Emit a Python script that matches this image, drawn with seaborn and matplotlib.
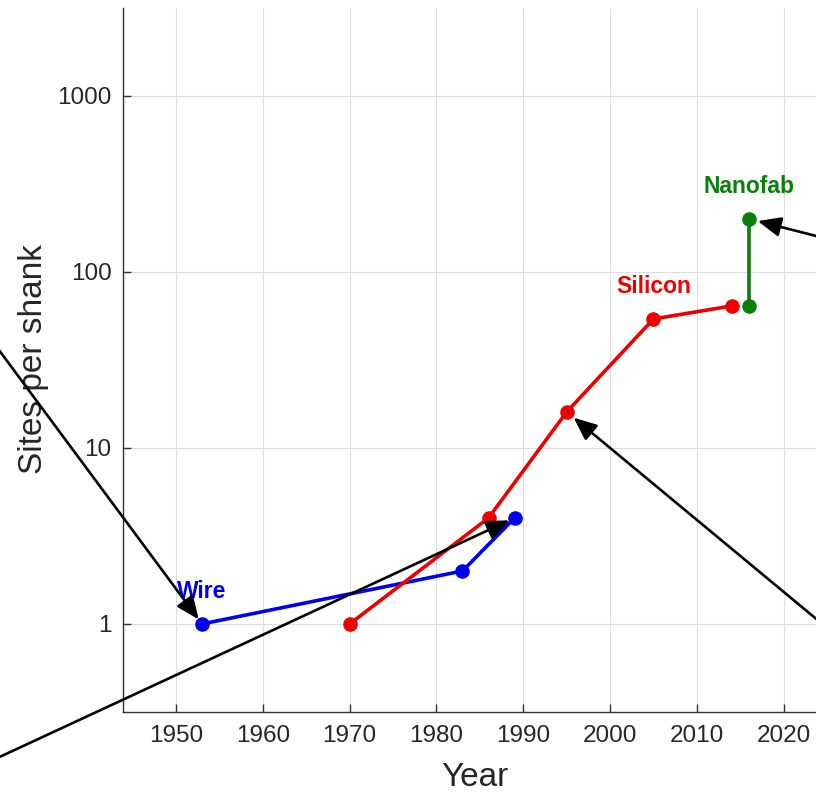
import numpy as np
import pandas as pd
import matplotlib
matplotlib.use("Agg")
import matplotlib.pyplot as plt
from matplotlib.ticker import FixedLocator, FixedFormatter, NullLocator
import seaborn as sns

# ---- data ----
wire_years = [1953, 1983, 1989]
wire_sites = [1, 2, 4]
silicon_years = [1970, 1986, 1995, 2005, 2014]
silicon_sites = [1, 4, 16, 54, 64]
nanofab_years = [2016, 2016]
nanofab_sites = [64, 200]

tech_names = ["Wire", "Silicon", "Nanofab"]
tech_colors = ["#0000EE", "#EE0000", "#0A800A"]

x_ticks = [1950, 1960, 1970, 1980, 1990, 2000, 2010, 2020]
y_ticks = [1, 10, 100, 1000]
y_tick_labels = ["1", "10", "100", "1000"]

df = pd.concat([
    pd.DataFrame({"Year": wire_years, "Sites": wire_sites, "Tech": "Wire"}),
    pd.DataFrame({"Year": silicon_years, "Sites": silicon_sites, "Tech": "Silicon"}),
    pd.DataFrame({"Year": nanofab_years, "Sites": nanofab_sites, "Tech": "Nanofab"}),
], ignore_index=True)

sns.set_theme(style="white")
plt.rcParams["font.family"] = ["Liberation Sans", "DejaVu Sans"]

fig = plt.figure(figsize=(8.16, 7.98), dpi=100)
W, H = 816, 798
ax = fig.add_axes([122.7 / W, (H - 712) / H, 693.3 / W, 704.3 / H])

sns.lineplot(data=df, x="Year", y="Sites", hue="Tech", hue_order=tech_names,
             palette=tech_colors, marker="o", markersize=10.5, markeredgewidth=0,
             linewidth=2.6, sort=False, estimator=None, legend=False, ax=ax)

ax.set_yscale("log")
ax.set_xlim(1943.86, 2023.72)
ax.set_ylim(10 ** -0.5, 10 ** 3.5)

ax.xaxis.set_major_locator(FixedLocator(x_ticks))
ax.yaxis.set_major_locator(FixedLocator(y_ticks))
ax.yaxis.set_major_formatter(FixedFormatter(y_tick_labels))
ax.yaxis.set_minor_locator(NullLocator())
ax.xaxis.set_minor_locator(NullLocator())

ax.grid(True, which="major", color="#dedede", linewidth=0.8)
ax.set_axisbelow(True)
for s in ["top", "right"]:
    ax.spines[s].set_visible(False)
for s in ["left", "bottom"]:
    ax.spines[s].set_color("#333333")
    ax.spines[s].set_linewidth(1.0)

ax.tick_params(axis="both", direction="in", length=6, width=1.0, color="#333333",
               labelsize=17.5, labelcolor="#262626")
ax.tick_params(axis="x", pad=9.2, top=False, bottom=True)
ax.tick_params(axis="y", pad=8, left=True, right=False)

ax.set_xlabel("Year", fontsize=24, color="#262626")
ax.set_ylabel("Sites per shank", fontsize=24, color="#262626")
ax.xaxis.set_label_coords(0.508, -0.071)
ax.yaxis.set_label_coords(-0.106, 0.501)

# series labels
label_points = [("Wire", wire_years[0], wire_sites[0], tech_colors[0]),
                ("Silicon", silicon_years[3], silicon_sites[3], tech_colors[1]),
                ("Nanofab", nanofab_years[1], nanofab_sites[1], tech_colors[2])]
for name, xv, yv, c in label_points:
    ax.annotate(name, xy=(xv, yv), xytext=(0, 32), textcoords="offset pixels",
                ha="center", va="center", fontsize=16.5, fontweight="bold", color=c)

# arrows coming from outside the frame
arrow_style = "-|>,head_length=0.7,head_width=0.3"
arrows = [
    ((wire_years[0], wire_sites[0]), (-10, H - 338), 4),
    ((wire_years[2], wire_sites[2]), (-10, H - 761.4), 4),
    ((silicon_years[2], silicon_sites[2]), (826, H - 627), 6.5),
    ((nanofab_years[1], nanofab_sites[1]), (826, H - 238.5), 6.5),
]
for xy, tail, shr in arrows:
    ax.annotate("", xy=xy, xytext=tail, textcoords="figure pixels",
                arrowprops=dict(arrowstyle=arrow_style, color="black", lw=1.9,
                                mutation_scale=20, shrinkA=0, shrinkB=shr))

fig.savefig("out.png", dpi=100)
